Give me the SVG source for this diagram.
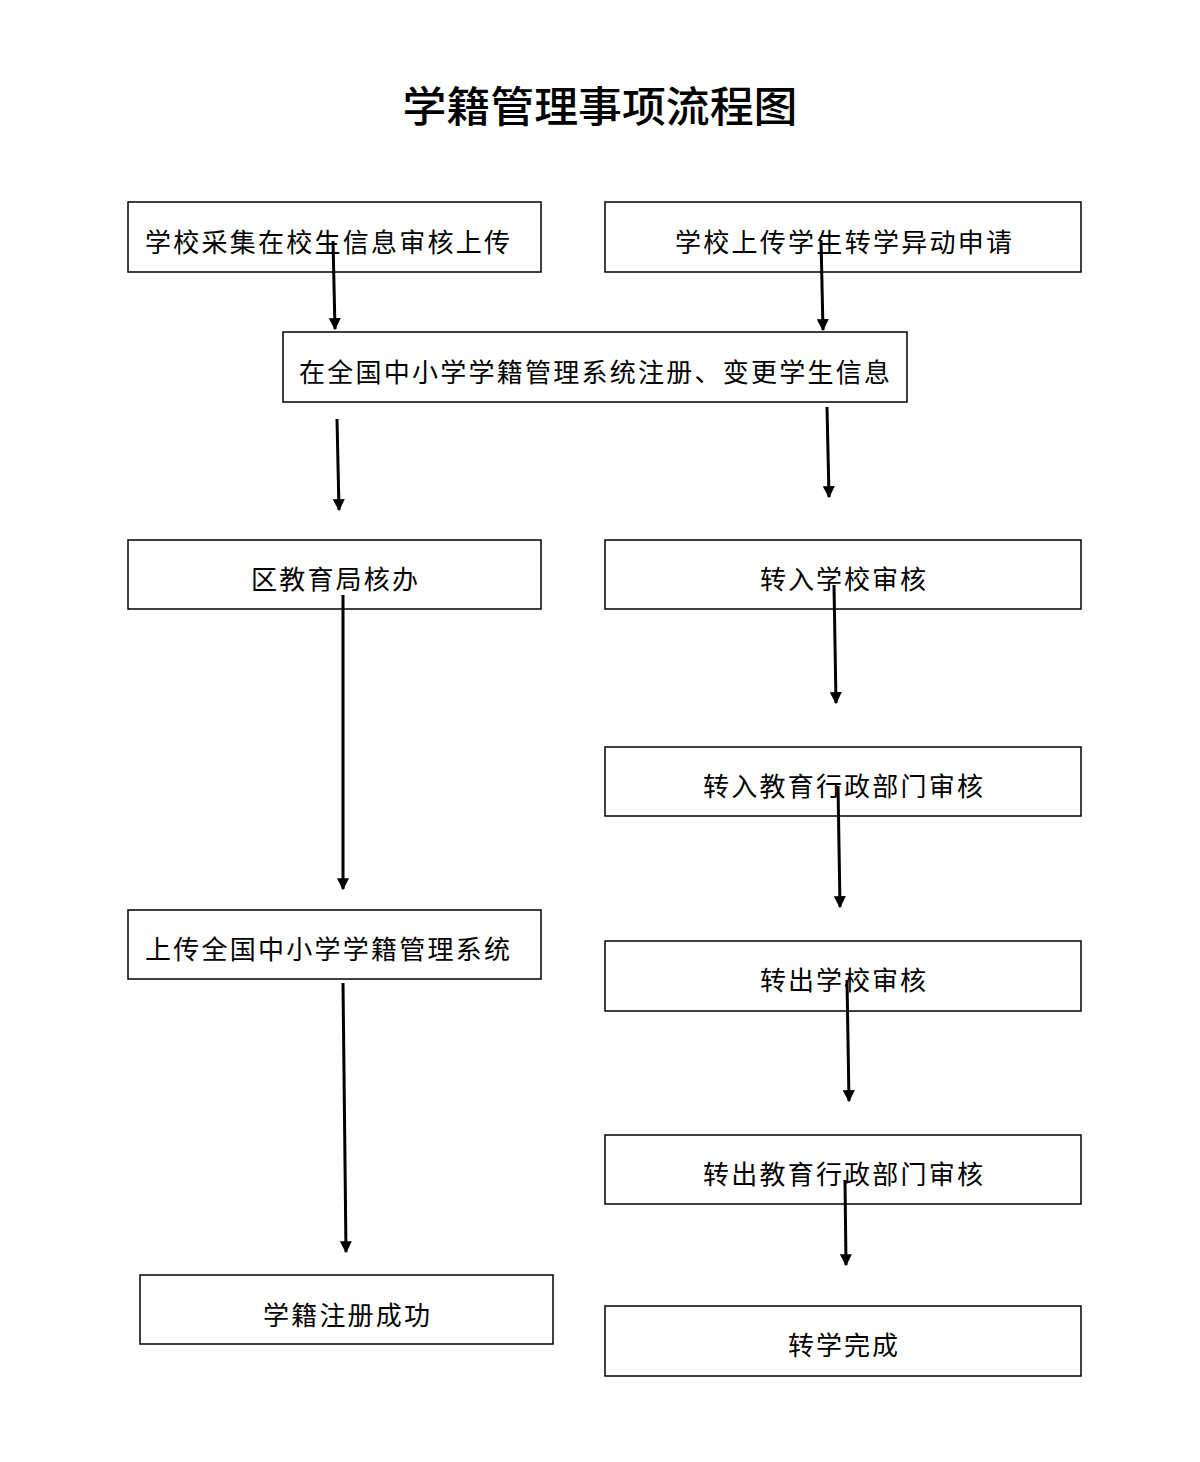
<svg xmlns="http://www.w3.org/2000/svg" width="1200" height="1462" viewBox="0 0 1200 1462">
<style>
.box{fill:#fff;stroke:#000;stroke-width:1.5}
.t{font-family:"Liberation Serif","Noto Sans CJK SC",serif;font-size:26px;fill:#000}
.title{font-family:"Noto Sans CJK SC",sans-serif;font-size:42px;font-weight:500;fill:#000}
.c{stroke:#000;stroke-width:3;fill:none;marker-end:url(#ah)}
</style>
<defs>
<marker id="ah" viewBox="0 0 10 10" refX="9" refY="5" markerWidth="4" markerHeight="4" orient="auto" markerUnits="strokeWidth">
<path d="M0,0 L10,5 L0,10 z" fill="#000"/>
</marker>
</defs>
<rect width="1200" height="1462" fill="#fff"/>
<text class="title" x="600" y="122" text-anchor="middle" textLength="395" lengthAdjust="spacingAndGlyphs">学籍管理事项流程图</text>
<g id="n1"><rect class="box" x="128" y="202" width="413" height="70"/><text class="t" x="145" y="252" textLength="365">学校采集在校生信息审核上传</text></g>
<g id="n2"><rect class="box" x="605" y="202" width="476" height="70"/><text class="t" x="675" y="252" textLength="337">学校上传学生转学异动申请</text></g>
<g id="n3"><rect class="box" x="283" y="332" width="624" height="70"/><text class="t" x="299" y="382" textLength="591">在全国中小学学籍管理系统注册、变更学生信息</text></g>
<g id="n4"><rect class="box" x="128" y="540" width="413" height="69"/><text class="t" x="251" y="589" textLength="167">区教育局核办</text></g>
<g id="n5"><rect class="box" x="605" y="540" width="476" height="69"/><text class="t" x="760" y="589" textLength="166">转入学校审核</text></g>
<g id="n6"><rect class="box" x="605" y="747" width="476" height="69"/><text class="t" x="703" y="796" textLength="280">转入教育行政部门审核</text></g>
<g id="n7"><rect class="box" x="128" y="910" width="413" height="69"/><text class="t" x="145" y="959" textLength="365">上传全国中小学学籍管理系统</text></g>
<g id="n8"><rect class="box" x="605" y="941" width="476" height="70"/><text class="t" x="760" y="990" textLength="166">转出学校审核</text></g>
<g id="n9"><rect class="box" x="605" y="1135" width="476" height="69"/><text class="t" x="703" y="1184" textLength="280">转出教育行政部门审核</text></g>
<g id="n10"><rect class="box" x="140" y="1275" width="413" height="69"/><text class="t" x="263" y="1325" textLength="167">学籍注册成功</text></g>
<g id="n11"><rect class="box" x="605" y="1306" width="476" height="70"/><text class="t" x="788" y="1355" textLength="110">转学完成</text></g>
<g id="connectors">
<line class="c" x1="333" y1="241" x2="335" y2="329"/>
<line class="c" x1="821" y1="240" x2="823" y2="330"/>
<line class="c" x1="337" y1="419" x2="339" y2="510"/>
<line class="c" x1="827" y1="407" x2="829" y2="497"/>
<line class="c" x1="343" y1="595" x2="343" y2="889"/>
<line class="c" x1="834" y1="585" x2="836" y2="703"/>
<line class="c" x1="838" y1="786" x2="840" y2="907"/>
<line class="c" x1="847" y1="980" x2="849" y2="1101"/>
<line class="c" x1="845" y1="1180" x2="846" y2="1265"/>
<line class="c" x1="343" y1="983" x2="346" y2="1252"/>
</g>
</svg>
